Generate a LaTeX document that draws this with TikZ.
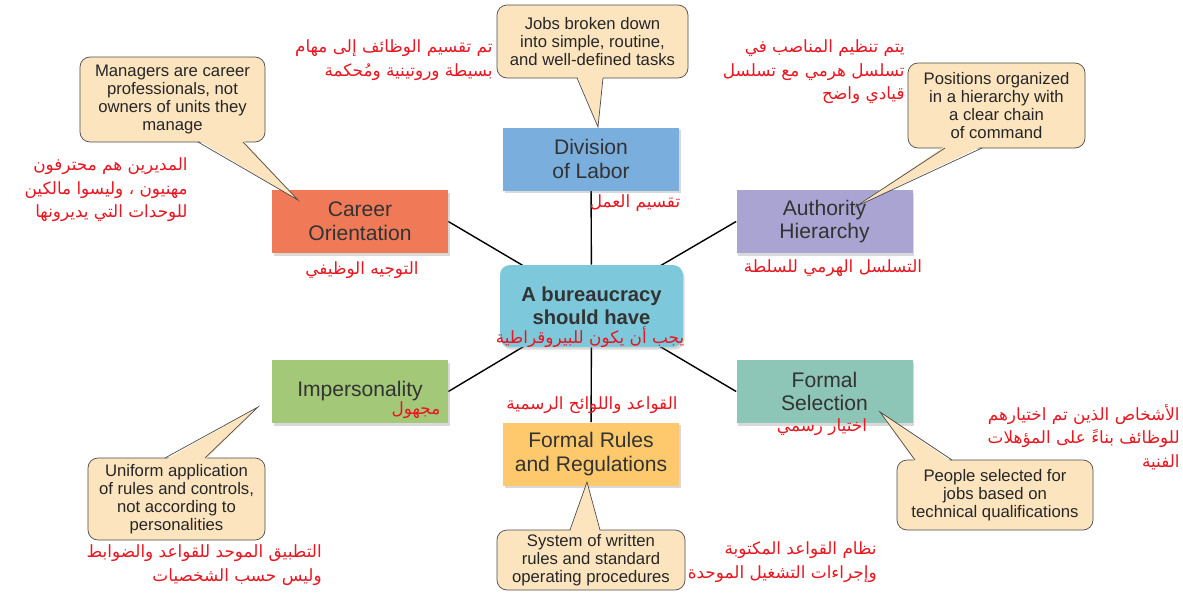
\documentclass[tikz,border=0pt]{standalone}
\usepackage{fontspec}
\setmainfont{Liberation Sans}
\newfontfamily\arabicfont[Script=Arabic]{DejaVu Sans}
\TeXXeTstate=1
\usetikzlibrary{shadows,backgrounds}
\definecolor{divblue}{RGB}{122,174,221}
\definecolor{carorange}{RGB}{240,122,88}
\definecolor{authlav}{RGB}{169,164,210}
\definecolor{impgreen}{RGB}{162,200,120}
\definecolor{selteal}{RGB}{141,197,182}
\definecolor{rulyellow}{RGB}{253,201,108}
\definecolor{burcyan}{RGB}{125,200,218}
\definecolor{calbg}{RGB}{252,228,191}
\definecolor{arred}{RGB}{232,22,32}
\tikzset{
  box/.style={minimum width=35.2mm, minimum height=12.6mm, align=center,
    text=black!80, font=\fontsize{12}{13.5}\selectfont,
    drop shadow={shadow xshift=0.3mm, shadow yshift=-0.5mm, opacity=0.3}},
  callout/.style={draw=black!70, fill=calbg, rounded corners=2mm, align=center,
    inner sep=0pt, text=black!85, font=\fontsize{9.5}{10.3}\selectfont},
  calline/.style={draw=black!70},
  arab/.style={text=arred, align=right, inner sep=0pt,
    font=\arabicfont\fontsize{9.6}{13.3}\selectfont},
}
\begin{document}
\begin{tikzpicture}[x=0.2mm, y=-0.2mm]
  \useasboundingbox (0,0) rectangle (1183,595);

  % centre and the six features
  \node[box, fill=burcyan, rounded corners=2mm, minimum width=36.6mm, minimum height=16.4mm,
    font=\bfseries\fontsize{11.5}{13}\selectfont] (bur) at (591.5,306) {A bureaucracy\\should have};
  \node[box, fill=divblue] (div) at (591,159) {Division\\of Labor};
  \node[box, fill=carorange] (car) at (360,221.5) {Career\\Orientation};
  \node[box, fill=authlav] (aut) at (824.5,221.5) {Authority\\Hierarchy};
  \node[box, fill=impgreen] (imp) at (360,391.5) {Impersonality};
  \node[box, fill=selteal] (sel) at (824.5,391.5) {Formal\\Selection};
  \node[box, fill=rulyellow] (rul) at (591,454) {Formal Rules\\and Regulations};

  \begin{scope}[on background layer]
    \draw[thick] (div) -- (bur);
    \draw[thick] (rul) -- (bur);
    \draw[thick] (car.east) -- (bur.center);
    \draw[thick] (aut.west) -- (bur.center);
    \draw[thick] (imp.east) -- (bur.center);
    \draw[thick] (sel.west) -- (bur.center);
  \end{scope}

  % callouts
  \node[callout, minimum width=38.2mm, minimum height=14.6mm] (cdiv) at (592.5,41.5)
    {Jobs broken down\\into simple, routine,\\and well-defined tasks};
  \fill[calbg] (577,76) -- (598,127) -- (603,76) -- cycle;
  \draw[calline] (577,78) -- (598,127) -- (603,78);

  \node[callout, minimum width=37mm, minimum height=17mm] (ccar) at (172.5,99.5)
    {Managers are career\\professionals, not\\owners of units they\\manage};
  \fill[calbg] (198,140) -- (298,200) -- (243,140) -- cycle;
  \draw[calline] (198,142) -- (298,200) -- (243,142);

  \node[callout, minimum width=35.4mm, minimum height=17mm] (caut) at (996.5,105.5)
    {Positions organized\\in a hierarchy with\\a clear chain\\of command};
  \fill[calbg] (945,146) -- (855,207) -- (982,146) -- cycle;
  \draw[calline] (945,148) -- (855,207) -- (982,148);

  \node[callout, minimum width=35.4mm, minimum height=16.4mm] (cimp) at (176.5,499)
    {Uniform application\\of rules and controls,\\not according to\\personalities};
  \fill[calbg] (165,460) -- (258,407) -- (205,460) -- cycle;
  \draw[calline] (165,458) -- (258,407) -- (205,458);

  \node[callout, minimum width=39.2mm, minimum height=14mm] (csel) at (995,495)
    {People selected for\\jobs based on\\technical qualifications};
  \fill[calbg] (915,462) -- (880,412) -- (952,462) -- cycle;
  \draw[calline] (915,460) -- (880,412) -- (952,460);

  \node[callout, minimum width=37.6mm, minimum height=12mm] (crul) at (591,560)
    {System of written\\rules and standard\\operating procedures};
  \fill[calbg] (570,532) -- (587,482) -- (600,532) -- cycle;
  \draw[calline] (570,530) -- (587,482) -- (600,530);

  % arabic texts
  \node[arab, anchor=east] (adivnote) at (493,60)
    {\beginR تم تقسيم الوظائف إلى مهام\endR\\\beginR بسيطة وروتينية ومُحكمة\endR};
  \node[arab, anchor=east] (aautnote) at (905,72)
    {\beginR يتم تنظيم المناصب في\endR\\\beginR تسلسل هرمي مع تسلسل\endR\\\beginR قيادي واضح\endR};
  \node[arab, anchor=east] (acarnote) at (188,190)
    {\beginR المديرين هم محترفون\endR\\\beginR مهنيون ، وليسوا مالكين\endR\\\beginR للوحدات التي يديرونها\endR};
  \node[arab] (adiv) at (635,203) {\beginR تقسيم العمل\endR};
  \node[arab] (acar) at (362,270) {\beginR التوجيه الوظيفي\endR};
  \node[arab] (aaut) at (833,268) {\beginR التسلسل الهرمي للسلطة\endR};
  \node[arab] (abur) at (590,337) {\beginR يجب أن يكون للبيروقراطية\endR};
  \node[arab] (arul) at (592,405) {\beginR القواعد واللوائح الرسمية\endR};
  \node[arab] (aimp) at (416,410) {\beginR مجهول\endR};
  \node[arab] (asel) at (822,427) {\beginR اختيار رسمي\endR};
  \node[arab, anchor=east] (aselnote) at (1180,437)
    {\beginR الأشخاص الذين تم اختيارهم\endR\\\beginR للوظائف بناءً على المؤهلات\endR\\\beginR الفنية\endR};
  \node[arab, anchor=east] (aimpnote) at (322,565)
    {\beginR التطبيق الموحد للقواعد والضوابط\endR\\\beginR وليس حسب الشخصيات\endR};
  \node[arab, anchor=east] (arulnote) at (877,562)
    {\beginR نظام القواعد المكتوبة\endR\\\beginR وإجراءات التشغيل الموحدة\endR};
\end{tikzpicture}
\end{document}
